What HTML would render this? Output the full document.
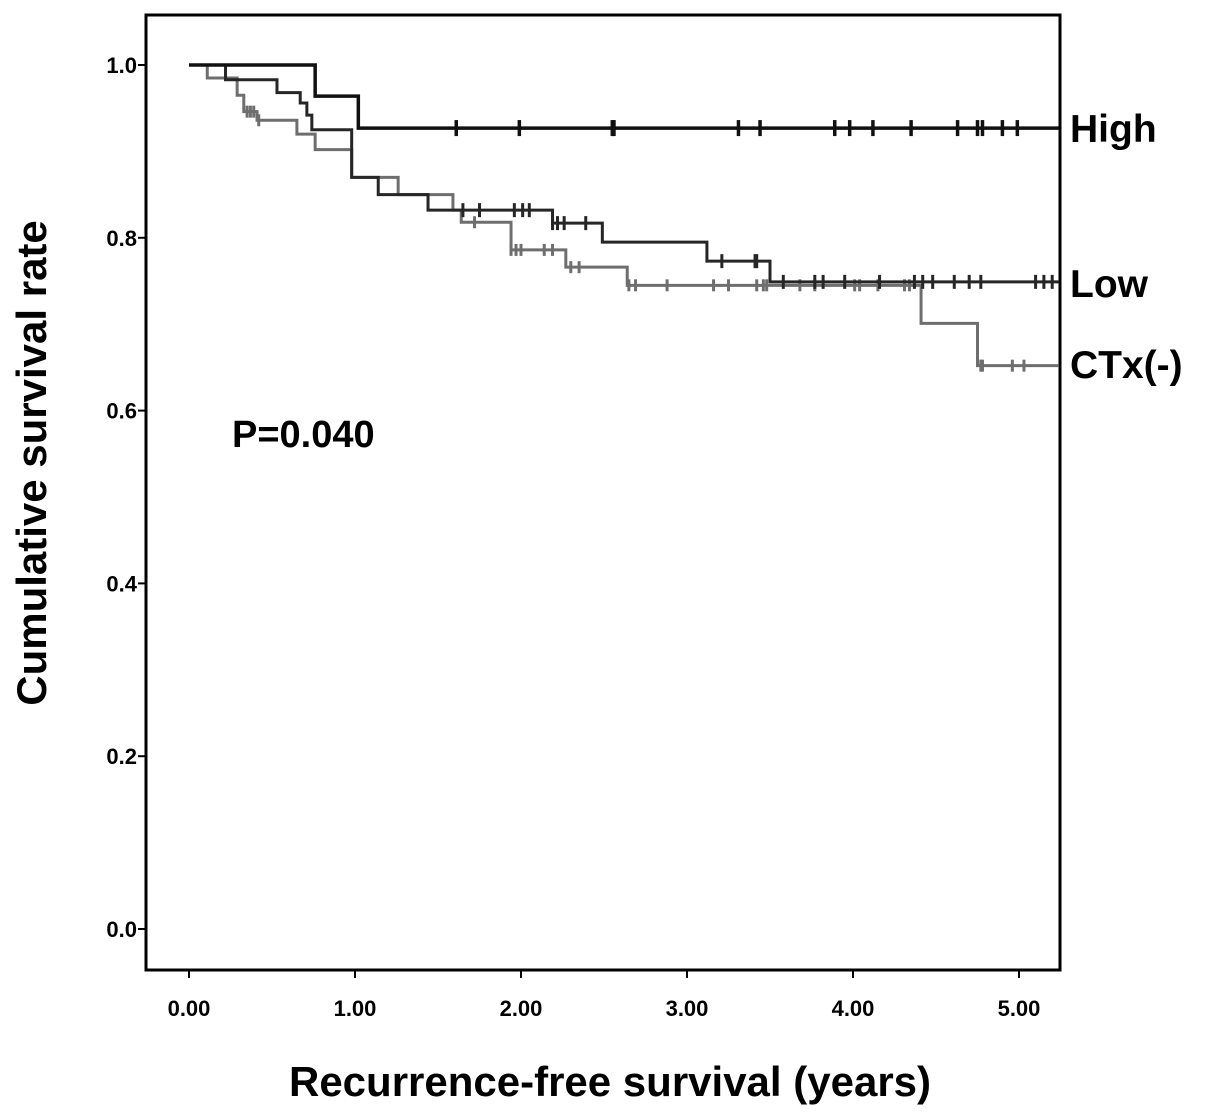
<!DOCTYPE html>
<html><head><meta charset="utf-8"><style>
body{margin:0;background:#fff;}
svg text{font-family:"Liberation Sans",Arial,sans-serif;font-weight:bold;}
</style></head><body>
<svg width="1205" height="1114" viewBox="0 0 1205 1114">
<g id="g"></g>
</svg>
<script>
const yTicks=[0,0.2,0.4,0.6,0.8,1.0];
const xTicks=[0,1,2,3,4,5];
const highSteps=[[0,1],[0.76,0.964],[1.02,0.927]];
const highCens=[1.61,1.99,2.55,2.56,3.31,3.44,3.89,3.98,4.12,4.35,4.63,4.75,4.78,4.90,4.99];
const lowSteps=[[0,1],[0.22,0.983],[0.53,0.968],[0.67,0.956],[0.71,0.942],[0.74,0.925],[0.98,0.870],[1.14,0.850],[1.44,0.832],[2.19,0.817],[2.49,0.795],[3.12,0.773],[3.50,0.749]];
const lowCens=[1.65,1.75,1.96,2.01,2.05,2.19,2.22,2.26,2.39,3.21,3.41,3.42,3.58,3.77,3.82,3.95,4.16,4.37,4.42,4.48,4.61,4.70,4.77,5.10,5.15,5.20];
const ctxSteps=[[0,1],[0.11,0.985],[0.29,0.965],[0.33,0.946],[0.41,0.936],[0.65,0.920],[0.76,0.902],[0.98,0.870],[1.26,0.850],[1.59,0.832],[1.64,0.818],[1.94,0.786],[2.27,0.766],[2.64,0.745],[4.41,0.701],[4.75,0.652]];
const ctxCens=[0.35,0.37,0.39,0.42,1.72,1.94,1.97,2.0,2.14,2.19,2.30,2.35,2.65,2.69,2.88,3.16,3.25,3.42,3.46,3.48,3.68,3.77,4.01,4.04,4.15,4.31,4.34,4.77,4.78,4.96,5.03];
const xMax=5.24;
const X=t=>189+166*t, Y=s=>929-864*s;
const NS='http://www.w3.org/2000/svg', g=document.getElementById('g');
function el(tag,attrs,txt){const e=document.createElementNS(NS,tag);for(const k in attrs)e.setAttribute(k,attrs[k]);if(txt!==undefined)e.textContent=txt;g.appendChild(e);return e;}
let fr=el('rect',{x:146,y:15,width:914,height:955,fill:'none',stroke:'#000','stroke-width':3});


yTicks.forEach(v=>{
 let l=el('line',{x1:138,x2:146,y1:Y(v),y2:Y(v),stroke:'#000','stroke-width':2});
 
 
 let t=el('text',{x:137,y:Y(v)+8,'text-anchor':'end','font-size':22},v.toFixed(1));
 
 
});
xTicks.forEach(v=>{
 let l=el('line',{x1:X(v),x2:X(v),y1:970,y2:978,stroke:'#000','stroke-width':2});
 
 
 let t=el('text',{x:X(v),y:1016,'text-anchor':'middle','font-size':22},v.toFixed(2));
 
 
});
function curve(steps,cens,color,w,name,th){
 let d='M'+X(steps[0][0])+','+Y(steps[0][1]);
 for(let i=1;i<steps.length;i++){d+=' H'+X(steps[i][0])+' V'+Y(steps[i][1]);}
 d+=' H'+X(xMax);
 let p=el('path',{d:d,fill:'none',stroke:color,'stroke-width':w});
 
 
 cens.forEach(t=>{
  let s=steps[0][1];for(const st of steps){if(st[0]<=t)s=st[1];}
  let c=el('line',{x1:X(t),x2:X(t),y1:Y(s)-th,y2:Y(s)+th,stroke:color,'stroke-width':w});
  
  
 });
}
curve(ctxSteps,ctxCens,'#6e6e6e',3,'ctx',6);
curve(lowSteps,lowCens,'#262626',3,'low',7);
curve(highSteps,highCens,'#111',3.5,'high',8);
[['High',142,'label-high'],['Low',297,'label-low'],['CTx(-)',378,'label-ctx']].forEach(a=>{
 let t=el('text',{x:1070,y:a[1],'font-size':39},a[0]);
 
 
});
let p=el('text',{x:232,y:447,'font-size':38},'P=0.040');


let xt=el('text',{x:610,y:1096,'text-anchor':'middle','font-size':42},'Recurrence-free survival (years)');


let yt=el('text',{x:0,y:0,'text-anchor':'middle','font-size':42,transform:'translate(46,463) rotate(-90)'},'Cumulative survival rate');


</script>
</body></html>
